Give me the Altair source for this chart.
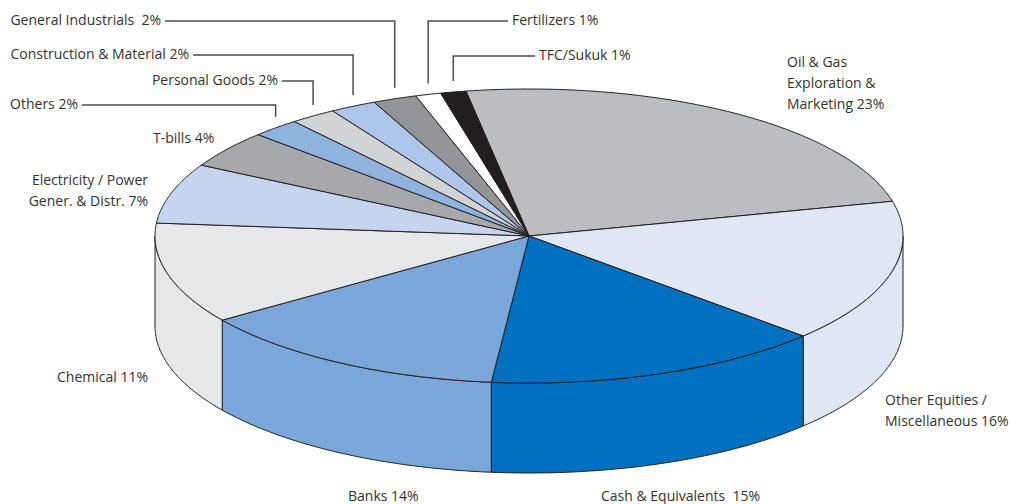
import altair as alt
import numpy as np
import pandas as pd

# ---------------- data ----------------
categories = [
    "Oil & Gas Exploration & Marketing",
    "Other Equities / Miscellaneous",
    "Cash & Equivalents",
    "Banks",
    "Chemical",
    "Electricity / Power Gener. & Distr.",
    "T-bills",
    "Others",
    "Personal Goods",
    "Construction & Material",
    "General Industrials",
    "Fertilizers",
    "TFC/Sukuk",
]
# slice sizes (labels show rounded values)
shares = [23.9, 15.7, 14.7, 13.7, 11.1, 6.6, 4.1, 2.1, 2.0, 2.0, 1.9, 1.1, 1.1]
label_lines = [
    ["Oil & Gas", "Exploration &", "Marketing 23%"],
    ["Other Equities /", "Miscellaneous 16%"],
    ["Cash & Equivalents\u00a0 15%"],
    ["Banks 14%"],
    ["Chemical 11%"],
    ["Electricity / Power", "Gener. & Distr. 7%"],
    ["T-bills 4%"],
    ["Others 2%"],
    ["Personal Goods 2%"],
    ["Construction & Material 2%"],
    ["General Industrials\u00a0 2%"],
    ["Fertilizers 1%"],
    ["TFC/Sukuk 1%"],
]

# ---------------- style ----------------
colors = ["#BCBDC0", "#DFE6F4", "#0070C0", "#7BA6D9", "#E6E7E8", "#C6D5EF",
          "#A7A8AB", "#8FB3DF", "#D1D3D4", "#ADC6EA", "#939598", "#FFFFFF", "#231F20"]
W, H = 1010, 504
CX, CY, RX, RY, DEPTH = 529, 236, 374, 147, 90
START_ANGLE = -9.7
FONT = "Open Sans"
FS = 14
LINE_GAP = 21
TEXT_COLOR = "#333333"
# label placement: (x, y of first line, align) or leader (row y, leader end x)
label_place = [
    (787, 63, "left"),
    (885, 401, "left"),
    (601, 497, "left"),
    (348, 497, "left"),
    (148, 378, "right"),
    (148, 181, "right"),
    (153, 139, "left"),
    None, None, None, None, None, None,
]
leader_place = [None] * 7 + [(105, 82), (81, 282), (55, 193), (21, 165), (21, 508), (56, 535)]


def rim(theta_deg):
    t = np.radians(theta_deg)
    return CX + RX * np.sin(t), CY - RY * np.cos(t)


tops, sides, leaders, texts = [], [], [], []
cum = START_ANGLE
for k, (cat, s) in enumerate(zip(categories, shares)):
    a0, a1 = cum, cum + s * 3.6
    cum = a1
    th = np.linspace(a0, a1, max(int((a1 - a0) * 2) + 2, 3))
    xs, ys = rim(th)
    px = [CX] + list(xs) + [CX]
    py = [CY] + list(ys) + [CY]
    for i, (x, y) in enumerate(zip(px, py)):
        tops.append(dict(cat=cat, poly=f"t{k}", i=i, x=x, y=y))
    lo, hi = max(a0, 90), min(a1, 270)
    if hi > lo:
        th = np.linspace(lo, hi, max(int((hi - lo) * 2) + 2, 3))
        xs, ys = rim(th)
        px = list(xs) + list(xs[::-1]) + [xs[0]]
        py = list(ys) + list(ys[::-1] + DEPTH) + [ys[0]]
        for i, (x, y) in enumerate(zip(px, py)):
            sides.append(dict(cat=cat, poly=f"s{k}", i=i, x=x, y=y))
    # labels
    mx, my = rim((a0 + a1) / 2)
    if leader_place[k] is not None:
        row_y, end_x = leader_place[k]
        pts = [(end_x, row_y), (mx, row_y), (mx, my - 11)]
        for i, (x, y) in enumerate(pts):
            leaders.append(dict(lid=f"l{k}", i=i, x=x, y=y))
        if end_x < mx:
            lx, ly, al = end_x - 4, row_y, "right"
        else:
            lx, ly, al = end_x + 4, row_y, "left"
    else:
        lx, ly, al = label_place[k]
    for j, line in enumerate(label_lines[k]):
        texts.append(dict(t=line, x=lx, y=ly + j * LINE_GAP, align=al))

tops = pd.DataFrame(tops)
sides = pd.DataFrame(sides)
leaders = pd.DataFrame(leaders)
texts = pd.DataFrame(texts)

xenc = alt.X("x:Q", scale=alt.Scale(domain=[0, W], nice=False, zero=False), axis=None)
yenc = alt.Y("y:Q", scale=alt.Scale(domain=[0, H], nice=False, zero=False, reverse=True), axis=None)
cenc = alt.Color("cat:N", scale=alt.Scale(domain=categories, range=colors), legend=None)

side_layer = alt.Chart(sides).mark_line(
    filled=True, stroke="#231F20", strokeWidth=1, strokeJoin="round", opacity=1
).encode(x=xenc, y=yenc, color=cenc, detail="poly:N", order="i:Q")

top_layer = alt.Chart(tops).mark_line(
    filled=True, stroke="#231F20", strokeWidth=1, strokeJoin="round", opacity=1
).encode(x=xenc, y=yenc, color=cenc, detail="poly:N", order="i:Q")

leader_layer = alt.Chart(leaders).mark_line(
    color="#4d4d4d", strokeWidth=1.5
).encode(x=xenc, y=yenc, detail="lid:N", order="i:Q")

text_left = alt.Chart(texts[texts["align"] == "left"]).mark_text(
    align="left", baseline="middle", font=FONT, fontSize=FS, color=TEXT_COLOR
).encode(x=xenc, y=yenc, text="t:N")

text_right = alt.Chart(texts[texts["align"] == "right"]).mark_text(
    align="right", baseline="middle", font=FONT, fontSize=FS, color=TEXT_COLOR
).encode(x=xenc, y=yenc, text="t:N")

chart = alt.layer(side_layer, top_layer, leader_layer, text_left, text_right).properties(
    width=W, height=H, autosize="none", padding=0, background="white"
).configure_view(stroke=None)

chart.save("out.html", embed_options={"renderer": "svg", "actions": False})
